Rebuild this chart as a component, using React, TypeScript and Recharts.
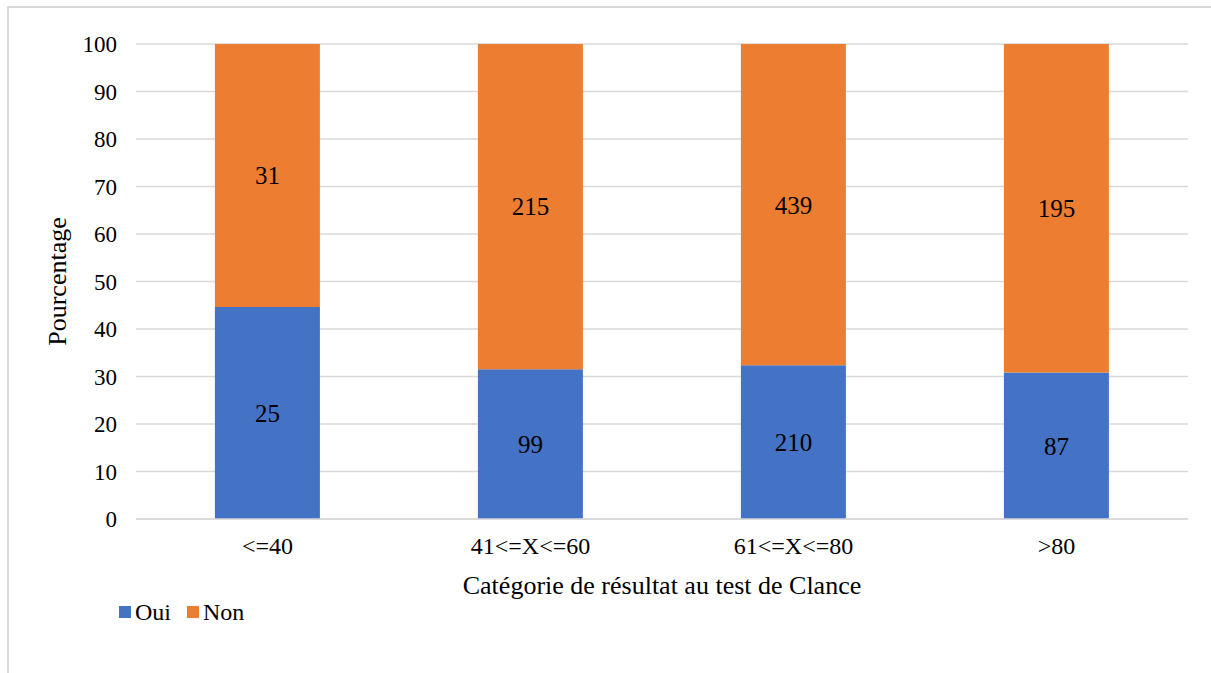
import { BarChart, Bar, XAxis, YAxis, CartesianGrid, Legend, LabelList } from 'recharts';

const categories = ['<=40', '41<=X<=60', '61<=X<=80', '>80'];
const ouiCounts = [25, 99, 210, 87];
const nonCounts = [31, 215, 439, 195];
const pctTicks = [0, 10, 20, 30, 40, 50, 60, 70, 80, 90, 100];

const data = categories.map((cat, i) => ({ cat, oui: ouiCounts[i], non: nonCounts[i] }));

const FONT = "'Liberation Serif', 'Times New Roman', serif";
const BLUE = '#4472C4';
const ORANGE = '#ED7D31';

const LegendContent = () => (
  <div style={{ display: 'flex', alignItems: 'center', fontFamily: FONT, fontSize: 24, color: '#000', lineHeight: '28px' }}>
    <span style={{ width: 12, height: 12, background: BLUE, display: 'inline-block', marginRight: 4 }} />
    <span style={{ marginRight: 16 }}>Oui</span>
    <span style={{ width: 12, height: 12, background: ORANGE, display: 'inline-block', marginRight: 4 }} />
    <span>Non</span>
  </div>
);

export default function App() {
  return (
    <div style={{ position: 'absolute', left: 0, top: 0, width: 1211, height: 673, background: '#fff', overflow: 'hidden', fontFamily: FONT }}>
      <div style={{ position: 'absolute', left: 7, top: 6, width: 1300, height: 800, borderLeft: '2px solid #d9d9d9', borderTop: '2px solid #d9d9d9' }} />
      <BarChart
        width={1211}
        height={673}
        data={data}
        stackOffset="expand"
        barCategoryGap="30%"
        margin={{ top: 44, right: 23, left: 40, bottom: 74 }}
        style={{ position: 'absolute', left: 0, top: 0, fontFamily: FONT }}
      >
        <CartesianGrid vertical={false} stroke="#d9d9d9" strokeWidth={1.5} />
        <XAxis
          dataKey="cat"
          height={80}
          axisLine={{ stroke: '#d9d9d9', strokeWidth: 1.5 }}
          tickLine={false}
          tickMargin={12}
          tick={{ fill: '#000', fontSize: 24 }}
          label={{ value: 'Catégorie de résultat au test de Clance', position: 'insideBottom', offset: 5, fill: '#000', fontSize: 26 }}
        />
        <YAxis
          width={96}
          domain={[0, 1]}
          ticks={pctTicks.map(t => t / 100)}
          tickFormatter={(v) => `${Math.round(v * 100)}`}
          axisLine={false}
          tickLine={false}
          tickMargin={13}
          tick={{ fill: '#000', fontSize: 23 }}
          label={{ value: 'Pourcentage', angle: -90, position: 'insideLeft', offset: 17, fill: '#000', fontSize: 26, style: { textAnchor: 'middle' } }}
        />
        <Legend
          verticalAlign="middle"
          align="center"
          layout="horizontal"
          content={<LegendContent />}
          wrapperStyle={{ position: 'absolute', left: 119, top: 598, width: 200 }}
        />
        <Bar dataKey="oui" name="Oui" stackId="a" fill={BLUE} isAnimationActive={false}>
          <LabelList dataKey="oui" position="center" fill="#000" fontSize={25} />
        </Bar>
        <Bar dataKey="non" name="Non" stackId="a" fill={ORANGE} isAnimationActive={false}>
          <LabelList dataKey="non" position="center" fill="#000" fontSize={25} />
        </Bar>
      </BarChart>
    </div>
  );
}
